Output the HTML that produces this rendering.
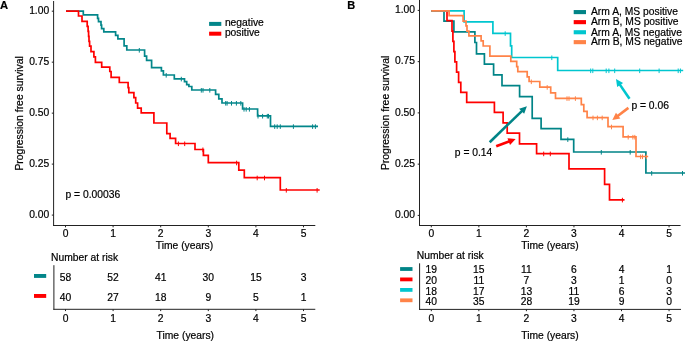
<!DOCTYPE html>
<html><head><meta charset="utf-8"><style>
html,body{margin:0;padding:0;background:#fff;}
body{width:685px;height:341px;overflow:hidden;}
svg{display:block;font-family:"Liberation Sans", sans-serif;will-change:transform;}
text{stroke:#000;stroke-width:0.2px;}
</style></head><body>
<svg width="685" height="341" viewBox="0 0 685 341">
<rect width="685" height="341" fill="#fff"/>
<text x="0.00" y="9.10" text-anchor="start" font-size="11.2" font-weight="bold" fill="#000" >A</text>
<line x1="53.60" y1="1.00" x2="53.60" y2="226.00" stroke="#222" stroke-width="1.0" />
<line x1="53.10" y1="225.50" x2="315.30" y2="225.50" stroke="#222" stroke-width="1.0" />
<line x1="51.80" y1="11.20" x2="53.60" y2="11.20" stroke="#222" stroke-width="1.0" />
<text x="49.20" y="14.00" text-anchor="end" font-size="10.3" font-weight="normal" fill="#000" >1.00</text>
<line x1="51.80" y1="62.17" x2="53.60" y2="62.17" stroke="#222" stroke-width="1.0" />
<text x="49.20" y="64.97" text-anchor="end" font-size="10.3" font-weight="normal" fill="#000" >0.75</text>
<line x1="51.80" y1="113.15" x2="53.60" y2="113.15" stroke="#222" stroke-width="1.0" />
<text x="49.20" y="115.95" text-anchor="end" font-size="10.3" font-weight="normal" fill="#000" >0.50</text>
<line x1="51.80" y1="164.12" x2="53.60" y2="164.12" stroke="#222" stroke-width="1.0" />
<text x="49.20" y="166.93" text-anchor="end" font-size="10.3" font-weight="normal" fill="#000" >0.25</text>
<line x1="51.80" y1="215.10" x2="53.60" y2="215.10" stroke="#222" stroke-width="1.0" />
<text x="49.20" y="217.90" text-anchor="end" font-size="10.3" font-weight="normal" fill="#000" >0.00</text>
<line x1="65.50" y1="225.50" x2="65.50" y2="227.30" stroke="#222" stroke-width="1.0" />
<text x="65.50" y="237.30" text-anchor="middle" font-size="10.3" font-weight="normal" fill="#000" >0</text>
<line x1="113.10" y1="225.50" x2="113.10" y2="227.30" stroke="#222" stroke-width="1.0" />
<text x="113.10" y="237.30" text-anchor="middle" font-size="10.3" font-weight="normal" fill="#000" >1</text>
<line x1="160.70" y1="225.50" x2="160.70" y2="227.30" stroke="#222" stroke-width="1.0" />
<text x="160.70" y="237.30" text-anchor="middle" font-size="10.3" font-weight="normal" fill="#000" >2</text>
<line x1="208.30" y1="225.50" x2="208.30" y2="227.30" stroke="#222" stroke-width="1.0" />
<text x="208.30" y="237.30" text-anchor="middle" font-size="10.3" font-weight="normal" fill="#000" >3</text>
<line x1="255.90" y1="225.50" x2="255.90" y2="227.30" stroke="#222" stroke-width="1.0" />
<text x="255.90" y="237.30" text-anchor="middle" font-size="10.3" font-weight="normal" fill="#000" >4</text>
<line x1="303.50" y1="225.50" x2="303.50" y2="227.30" stroke="#222" stroke-width="1.0" />
<text x="303.50" y="237.30" text-anchor="middle" font-size="10.3" font-weight="normal" fill="#000" >5</text>
<text x="184.50" y="249.30" text-anchor="middle" font-size="10.3" font-weight="normal" fill="#000" >Time (years)</text>
<text transform="translate(23.0,113.4) rotate(-90)" text-anchor="middle" font-size="10.4">Progression free survival</text>
<text x="65.50" y="197.60" text-anchor="start" font-size="10.3" font-weight="normal" fill="#000" >p = 0.00036</text>
<rect x="209.10" y="21.90" width="12.20" height="4.00" fill="#03868a"/>
<rect x="209.10" y="31.70" width="12.20" height="4.00" fill="#ff0000"/>
<text x="224.90" y="26.00" text-anchor="start" font-size="10.3" font-weight="normal" fill="#000" >negative</text>
<text x="224.90" y="35.80" text-anchor="start" font-size="10.3" font-weight="normal" fill="#000" >positive</text>
<text x="51.10" y="261.00" text-anchor="start" font-size="10.3" font-weight="normal" fill="#000" >Number at risk</text>
<line x1="53.90" y1="265.20" x2="53.90" y2="309.80" stroke="#222" stroke-width="1.0" />
<line x1="53.40" y1="309.30" x2="315.30" y2="309.30" stroke="#222" stroke-width="1.0" />
<rect x="34.00" y="274.00" width="12.20" height="3.90" fill="#03868a"/>
<text x="65.50" y="280.90" text-anchor="middle" font-size="10.3" font-weight="normal" fill="#000" >58</text>
<text x="113.10" y="280.90" text-anchor="middle" font-size="10.3" font-weight="normal" fill="#000" >52</text>
<text x="160.70" y="280.90" text-anchor="middle" font-size="10.3" font-weight="normal" fill="#000" >41</text>
<text x="208.30" y="280.90" text-anchor="middle" font-size="10.3" font-weight="normal" fill="#000" >30</text>
<text x="255.90" y="280.90" text-anchor="middle" font-size="10.3" font-weight="normal" fill="#000" >15</text>
<text x="303.50" y="280.90" text-anchor="middle" font-size="10.3" font-weight="normal" fill="#000" >3</text>
<rect x="34.00" y="294.00" width="12.20" height="3.90" fill="#ff0000"/>
<text x="65.50" y="300.90" text-anchor="middle" font-size="10.3" font-weight="normal" fill="#000" >40</text>
<text x="113.10" y="300.90" text-anchor="middle" font-size="10.3" font-weight="normal" fill="#000" >27</text>
<text x="160.70" y="300.90" text-anchor="middle" font-size="10.3" font-weight="normal" fill="#000" >18</text>
<text x="208.30" y="300.90" text-anchor="middle" font-size="10.3" font-weight="normal" fill="#000" >9</text>
<text x="255.90" y="300.90" text-anchor="middle" font-size="10.3" font-weight="normal" fill="#000" >5</text>
<text x="303.50" y="300.90" text-anchor="middle" font-size="10.3" font-weight="normal" fill="#000" >1</text>
<line x1="65.50" y1="309.30" x2="65.50" y2="311.10" stroke="#222" stroke-width="1.0" />
<text x="65.50" y="322.10" text-anchor="middle" font-size="10.3" font-weight="normal" fill="#000" >0</text>
<line x1="113.10" y1="309.30" x2="113.10" y2="311.10" stroke="#222" stroke-width="1.0" />
<text x="113.10" y="322.10" text-anchor="middle" font-size="10.3" font-weight="normal" fill="#000" >1</text>
<line x1="160.70" y1="309.30" x2="160.70" y2="311.10" stroke="#222" stroke-width="1.0" />
<text x="160.70" y="322.10" text-anchor="middle" font-size="10.3" font-weight="normal" fill="#000" >2</text>
<line x1="208.30" y1="309.30" x2="208.30" y2="311.10" stroke="#222" stroke-width="1.0" />
<text x="208.30" y="322.10" text-anchor="middle" font-size="10.3" font-weight="normal" fill="#000" >3</text>
<line x1="255.90" y1="309.30" x2="255.90" y2="311.10" stroke="#222" stroke-width="1.0" />
<text x="255.90" y="322.10" text-anchor="middle" font-size="10.3" font-weight="normal" fill="#000" >4</text>
<line x1="303.50" y1="309.30" x2="303.50" y2="311.10" stroke="#222" stroke-width="1.0" />
<text x="303.50" y="322.10" text-anchor="middle" font-size="10.3" font-weight="normal" fill="#000" >5</text>
<text x="185.30" y="339.00" text-anchor="middle" font-size="10.3" font-weight="normal" fill="#000" >Time (years)</text>
<text x="347.30" y="8.90" text-anchor="start" font-size="11.0" font-weight="bold" fill="#000" >B</text>
<line x1="419.50" y1="0.00" x2="419.50" y2="226.00" stroke="#222" stroke-width="1.0" />
<line x1="419.00" y1="225.50" x2="680.60" y2="225.50" stroke="#222" stroke-width="1.0" />
<line x1="417.70" y1="10.40" x2="419.50" y2="10.40" stroke="#222" stroke-width="1.0" />
<text x="415.00" y="13.20" text-anchor="end" font-size="10.3" font-weight="normal" fill="#000" >1.00</text>
<line x1="417.70" y1="61.65" x2="419.50" y2="61.65" stroke="#222" stroke-width="1.0" />
<text x="415.00" y="64.45" text-anchor="end" font-size="10.3" font-weight="normal" fill="#000" >0.75</text>
<line x1="417.70" y1="112.90" x2="419.50" y2="112.90" stroke="#222" stroke-width="1.0" />
<text x="415.00" y="115.70" text-anchor="end" font-size="10.3" font-weight="normal" fill="#000" >0.50</text>
<line x1="417.70" y1="164.15" x2="419.50" y2="164.15" stroke="#222" stroke-width="1.0" />
<text x="415.00" y="166.95" text-anchor="end" font-size="10.3" font-weight="normal" fill="#000" >0.25</text>
<line x1="417.70" y1="215.40" x2="419.50" y2="215.40" stroke="#222" stroke-width="1.0" />
<text x="415.00" y="218.20" text-anchor="end" font-size="10.3" font-weight="normal" fill="#000" >0.00</text>
<line x1="431.30" y1="225.50" x2="431.30" y2="227.30" stroke="#222" stroke-width="1.0" />
<text x="431.30" y="237.30" text-anchor="middle" font-size="10.3" font-weight="normal" fill="#000" >0</text>
<line x1="478.85" y1="225.50" x2="478.85" y2="227.30" stroke="#222" stroke-width="1.0" />
<text x="478.85" y="237.30" text-anchor="middle" font-size="10.3" font-weight="normal" fill="#000" >1</text>
<line x1="526.40" y1="225.50" x2="526.40" y2="227.30" stroke="#222" stroke-width="1.0" />
<text x="526.40" y="237.30" text-anchor="middle" font-size="10.3" font-weight="normal" fill="#000" >2</text>
<line x1="573.95" y1="225.50" x2="573.95" y2="227.30" stroke="#222" stroke-width="1.0" />
<text x="573.95" y="237.30" text-anchor="middle" font-size="10.3" font-weight="normal" fill="#000" >3</text>
<line x1="621.50" y1="225.50" x2="621.50" y2="227.30" stroke="#222" stroke-width="1.0" />
<text x="621.50" y="237.30" text-anchor="middle" font-size="10.3" font-weight="normal" fill="#000" >4</text>
<line x1="669.05" y1="225.50" x2="669.05" y2="227.30" stroke="#222" stroke-width="1.0" />
<text x="669.05" y="237.30" text-anchor="middle" font-size="10.3" font-weight="normal" fill="#000" >5</text>
<text x="550.00" y="249.30" text-anchor="middle" font-size="10.3" font-weight="normal" fill="#000" >Time (years)</text>
<text transform="translate(388.6,112.9) rotate(-90)" text-anchor="middle" font-size="10.4">Progression free survival</text>
<rect x="573.70" y="10.05" width="12.30" height="4.10" fill="#008487"/>
<text x="591.00" y="15.35" text-anchor="start" font-size="10.3" font-weight="normal" fill="#000" >Arm A, MS positive</text>
<rect x="573.70" y="20.10" width="12.30" height="4.10" fill="#ff0000"/>
<text x="591.00" y="25.40" text-anchor="start" font-size="10.3" font-weight="normal" fill="#000" >Arm B, MS positive</text>
<rect x="573.70" y="30.20" width="12.30" height="4.10" fill="#00c6cf"/>
<text x="591.00" y="35.50" text-anchor="start" font-size="10.3" font-weight="normal" fill="#000" >Arm A, MS negative</text>
<rect x="573.70" y="40.10" width="12.30" height="4.10" fill="#ff8348"/>
<text x="591.00" y="45.40" text-anchor="start" font-size="10.3" font-weight="normal" fill="#000" >Arm B, MS negative</text>
<text x="454.80" y="155.70" text-anchor="start" font-size="10.3" font-weight="normal" fill="#000" >p = 0.14</text>
<text x="631.40" y="108.80" text-anchor="start" font-size="10.3" font-weight="normal" fill="#000" >p = 0.06</text>
<text x="416.80" y="258.60" text-anchor="start" font-size="10.3" font-weight="normal" fill="#000" >Number at risk</text>
<line x1="419.60" y1="263.30" x2="419.60" y2="309.90" stroke="#222" stroke-width="1.0" />
<line x1="419.10" y1="309.40" x2="681.00" y2="309.40" stroke="#222" stroke-width="1.0" />
<rect x="400.10" y="267.10" width="12.40" height="3.80" fill="#008487"/>
<text x="431.30" y="273.00" text-anchor="middle" font-size="10.3" font-weight="normal" fill="#000" >19</text>
<text x="478.85" y="273.00" text-anchor="middle" font-size="10.3" font-weight="normal" fill="#000" >15</text>
<text x="526.40" y="273.00" text-anchor="middle" font-size="10.3" font-weight="normal" fill="#000" >11</text>
<text x="573.95" y="273.00" text-anchor="middle" font-size="10.3" font-weight="normal" fill="#000" >6</text>
<text x="621.50" y="273.00" text-anchor="middle" font-size="10.3" font-weight="normal" fill="#000" >4</text>
<text x="669.05" y="273.00" text-anchor="middle" font-size="10.3" font-weight="normal" fill="#000" >1</text>
<rect x="400.10" y="277.50" width="12.40" height="3.80" fill="#ff0000"/>
<text x="431.30" y="283.80" text-anchor="middle" font-size="10.3" font-weight="normal" fill="#000" >20</text>
<text x="478.85" y="283.80" text-anchor="middle" font-size="10.3" font-weight="normal" fill="#000" >11</text>
<text x="526.40" y="283.80" text-anchor="middle" font-size="10.3" font-weight="normal" fill="#000" >7</text>
<text x="573.95" y="283.80" text-anchor="middle" font-size="10.3" font-weight="normal" fill="#000" >3</text>
<text x="621.50" y="283.80" text-anchor="middle" font-size="10.3" font-weight="normal" fill="#000" >1</text>
<text x="669.05" y="283.80" text-anchor="middle" font-size="10.3" font-weight="normal" fill="#000" >0</text>
<rect x="400.10" y="288.00" width="12.40" height="3.80" fill="#00c6cf"/>
<text x="431.30" y="294.60" text-anchor="middle" font-size="10.3" font-weight="normal" fill="#000" >18</text>
<text x="478.85" y="294.60" text-anchor="middle" font-size="10.3" font-weight="normal" fill="#000" >17</text>
<text x="526.40" y="294.60" text-anchor="middle" font-size="10.3" font-weight="normal" fill="#000" >13</text>
<text x="573.95" y="294.60" text-anchor="middle" font-size="10.3" font-weight="normal" fill="#000" >11</text>
<text x="621.50" y="294.60" text-anchor="middle" font-size="10.3" font-weight="normal" fill="#000" >6</text>
<text x="669.05" y="294.60" text-anchor="middle" font-size="10.3" font-weight="normal" fill="#000" >3</text>
<rect x="400.10" y="298.40" width="12.40" height="3.80" fill="#ff8348"/>
<text x="431.30" y="305.40" text-anchor="middle" font-size="10.3" font-weight="normal" fill="#000" >40</text>
<text x="478.85" y="305.40" text-anchor="middle" font-size="10.3" font-weight="normal" fill="#000" >35</text>
<text x="526.40" y="305.40" text-anchor="middle" font-size="10.3" font-weight="normal" fill="#000" >28</text>
<text x="573.95" y="305.40" text-anchor="middle" font-size="10.3" font-weight="normal" fill="#000" >19</text>
<text x="621.50" y="305.40" text-anchor="middle" font-size="10.3" font-weight="normal" fill="#000" >9</text>
<text x="669.05" y="305.40" text-anchor="middle" font-size="10.3" font-weight="normal" fill="#000" >0</text>
<line x1="431.30" y1="309.40" x2="431.30" y2="311.20" stroke="#222" stroke-width="1.0" />
<text x="431.30" y="321.60" text-anchor="middle" font-size="10.3" font-weight="normal" fill="#000" >0</text>
<line x1="478.85" y1="309.40" x2="478.85" y2="311.20" stroke="#222" stroke-width="1.0" />
<text x="478.85" y="321.60" text-anchor="middle" font-size="10.3" font-weight="normal" fill="#000" >1</text>
<line x1="526.40" y1="309.40" x2="526.40" y2="311.20" stroke="#222" stroke-width="1.0" />
<text x="526.40" y="321.60" text-anchor="middle" font-size="10.3" font-weight="normal" fill="#000" >2</text>
<line x1="573.95" y1="309.40" x2="573.95" y2="311.20" stroke="#222" stroke-width="1.0" />
<text x="573.95" y="321.60" text-anchor="middle" font-size="10.3" font-weight="normal" fill="#000" >3</text>
<line x1="621.50" y1="309.40" x2="621.50" y2="311.20" stroke="#222" stroke-width="1.0" />
<text x="621.50" y="321.60" text-anchor="middle" font-size="10.3" font-weight="normal" fill="#000" >4</text>
<line x1="669.05" y1="309.40" x2="669.05" y2="311.20" stroke="#222" stroke-width="1.0" />
<text x="669.05" y="321.60" text-anchor="middle" font-size="10.3" font-weight="normal" fill="#000" >5</text>
<text x="550.00" y="339.20" text-anchor="middle" font-size="10.3" font-weight="normal" fill="#000" >Time (years)</text>
<path d="M66.00,11.20H83.30V14.90H97.60V18.40H98.50V21.70H101.00V25.20H101.60V28.60H103.80V31.80H115.60V35.40H117.90V38.80H124.10V45.90H126.80V50.00H144.60V56.10H146.60V60.40H151.60V67.70H161.40V70.90H163.40V75.00H174.30V78.80H184.50V81.60H186.70V84.70H188.90V86.50H191.80V90.00H215.60V94.40H218.80V98.80H222.00V103.00H242.60V109.00H257.60V115.90H270.50V126.30H318.00" fill="none" stroke="#03868a" stroke-width="1.7" stroke-linejoin="miter" stroke-linecap="butt"/>
<line x1="139.30" y1="48.00" x2="139.30" y2="52.60" stroke="#03868a" stroke-width="1.0" />
<line x1="166.20" y1="73.00" x2="166.20" y2="77.60" stroke="#03868a" stroke-width="1.0" />
<line x1="181.30" y1="76.80" x2="181.30" y2="81.40" stroke="#03868a" stroke-width="1.0" />
<line x1="201.30" y1="88.00" x2="201.30" y2="92.60" stroke="#03868a" stroke-width="1.0" />
<line x1="203.00" y1="88.00" x2="203.00" y2="92.60" stroke="#03868a" stroke-width="1.0" />
<line x1="209.80" y1="88.00" x2="209.80" y2="92.60" stroke="#03868a" stroke-width="1.0" />
<line x1="225.70" y1="101.00" x2="225.70" y2="105.60" stroke="#03868a" stroke-width="1.0" />
<line x1="227.10" y1="101.00" x2="227.10" y2="105.60" stroke="#03868a" stroke-width="1.0" />
<line x1="231.50" y1="101.00" x2="231.50" y2="105.60" stroke="#03868a" stroke-width="1.0" />
<line x1="236.40" y1="101.00" x2="236.40" y2="105.60" stroke="#03868a" stroke-width="1.0" />
<line x1="240.80" y1="101.00" x2="240.80" y2="105.60" stroke="#03868a" stroke-width="1.0" />
<line x1="244.00" y1="107.00" x2="244.00" y2="111.60" stroke="#03868a" stroke-width="1.0" />
<line x1="246.20" y1="107.00" x2="246.20" y2="111.60" stroke="#03868a" stroke-width="1.0" />
<line x1="249.40" y1="107.00" x2="249.40" y2="111.60" stroke="#03868a" stroke-width="1.0" />
<line x1="258.00" y1="113.90" x2="258.00" y2="118.50" stroke="#03868a" stroke-width="1.0" />
<line x1="262.60" y1="113.90" x2="262.60" y2="118.50" stroke="#03868a" stroke-width="1.0" />
<line x1="267.30" y1="113.90" x2="267.30" y2="118.50" stroke="#03868a" stroke-width="1.0" />
<line x1="268.50" y1="113.90" x2="268.50" y2="118.50" stroke="#03868a" stroke-width="1.0" />
<line x1="274.70" y1="124.30" x2="274.70" y2="128.90" stroke="#03868a" stroke-width="1.0" />
<line x1="277.20" y1="124.30" x2="277.20" y2="128.90" stroke="#03868a" stroke-width="1.0" />
<line x1="280.30" y1="124.30" x2="280.30" y2="128.90" stroke="#03868a" stroke-width="1.0" />
<line x1="293.40" y1="124.30" x2="293.40" y2="128.90" stroke="#03868a" stroke-width="1.0" />
<line x1="312.60" y1="124.30" x2="312.60" y2="128.90" stroke="#03868a" stroke-width="1.0" />
<line x1="315.40" y1="124.30" x2="315.40" y2="128.90" stroke="#03868a" stroke-width="1.0" />
<path d="M66.00,11.20H78.50V16.00H82.00V21.30H87.20V26.40H88.10V31.30H88.60V36.40H89.00V41.40H89.60V46.20H91.00V51.60H93.90V56.80H95.40V62.30H101.70V67.10H109.80V71.50H111.10V77.40H119.30V82.50H128.10V87.60H128.80V92.70H133.90V97.60H135.70V103.00H137.60V108.20H141.20V112.80H153.90V123.00H166.80V133.60H170.10V138.40H175.60V143.50H195.00V149.50H203.40V155.40H208.30V162.70H238.80V170.10H244.30V177.70H280.30V190.00H319.70" fill="none" stroke="#ff0000" stroke-width="1.7" stroke-linejoin="miter" stroke-linecap="butt"/>
<line x1="178.40" y1="141.50" x2="178.40" y2="146.10" stroke="#ff0000" stroke-width="1.0" />
<line x1="184.70" y1="141.50" x2="184.70" y2="146.10" stroke="#ff0000" stroke-width="1.0" />
<line x1="202.90" y1="147.50" x2="202.90" y2="152.10" stroke="#ff0000" stroke-width="1.0" />
<line x1="236.60" y1="160.70" x2="236.60" y2="165.30" stroke="#ff0000" stroke-width="1.0" />
<line x1="257.20" y1="175.70" x2="257.20" y2="180.30" stroke="#ff0000" stroke-width="1.0" />
<line x1="264.50" y1="175.70" x2="264.50" y2="180.30" stroke="#ff0000" stroke-width="1.0" />
<line x1="286.30" y1="188.00" x2="286.30" y2="192.60" stroke="#ff0000" stroke-width="1.0" />
<line x1="317.10" y1="188.00" x2="317.10" y2="192.60" stroke="#ff0000" stroke-width="1.0" />
<path d="M431.20,10.85H444.00V21.20H453.90V31.90H474.90V42.50H476.50V53.80H484.40V64.20H493.60V74.90H502.00V85.60H519.60V96.70H532.20V118.30H541.10V128.60H561.00V139.30H573.70V152.00H645.90V173.00H685.00" fill="none" stroke="#008487" stroke-width="1.7" stroke-linejoin="miter" stroke-linecap="butt"/>
<line x1="567.80" y1="137.30" x2="567.80" y2="141.90" stroke="#008487" stroke-width="1.0" />
<line x1="601.30" y1="150.00" x2="601.30" y2="154.60" stroke="#008487" stroke-width="1.0" />
<line x1="630.20" y1="150.00" x2="630.20" y2="154.60" stroke="#008487" stroke-width="1.0" />
<line x1="651.70" y1="171.00" x2="651.70" y2="175.60" stroke="#008487" stroke-width="1.0" />
<line x1="682.50" y1="171.00" x2="682.50" y2="175.60" stroke="#008487" stroke-width="1.0" />
<path d="M431.20,10.85H447.00V20.60H452.00V31.10H452.90V41.40H453.90V51.70H454.90V61.90H456.60V72.20H458.60V82.30H460.80V92.30H466.70V102.40H494.40V112.40H503.10V122.90H507.20V133.10H519.50V143.80H536.60V153.60H569.00V168.80H604.60V184.30H609.50V199.80H624.50" fill="none" stroke="#ff0000" stroke-width="1.7" stroke-linejoin="miter" stroke-linecap="butt"/>
<line x1="543.70" y1="151.60" x2="543.70" y2="156.20" stroke="#ff0000" stroke-width="1.0" />
<line x1="550.30" y1="151.60" x2="550.30" y2="156.20" stroke="#ff0000" stroke-width="1.0" />
<line x1="622.40" y1="197.80" x2="622.40" y2="202.40" stroke="#ff0000" stroke-width="1.0" />
<path d="M431.20,10.85H464.10V21.80H492.90V33.30H510.50V45.80H511.70V57.50H557.70V70.50H683.20" fill="none" stroke="#00c6cf" stroke-width="1.7" stroke-linejoin="miter" stroke-linecap="butt"/>
<line x1="505.20" y1="31.30" x2="505.20" y2="35.90" stroke="#00c6cf" stroke-width="1.0" />
<line x1="551.80" y1="55.50" x2="551.80" y2="60.10" stroke="#00c6cf" stroke-width="1.0" />
<line x1="590.70" y1="68.50" x2="590.70" y2="73.10" stroke="#00c6cf" stroke-width="1.0" />
<line x1="592.80" y1="68.50" x2="592.80" y2="73.10" stroke="#00c6cf" stroke-width="1.0" />
<line x1="606.20" y1="68.50" x2="606.20" y2="73.10" stroke="#00c6cf" stroke-width="1.0" />
<line x1="608.90" y1="68.50" x2="608.90" y2="73.10" stroke="#00c6cf" stroke-width="1.0" />
<line x1="614.70" y1="68.50" x2="614.70" y2="73.10" stroke="#00c6cf" stroke-width="1.0" />
<line x1="639.70" y1="68.50" x2="639.70" y2="73.10" stroke="#00c6cf" stroke-width="1.0" />
<line x1="659.10" y1="68.50" x2="659.10" y2="73.10" stroke="#00c6cf" stroke-width="1.0" />
<line x1="678.20" y1="68.50" x2="678.20" y2="73.10" stroke="#00c6cf" stroke-width="1.0" />
<line x1="680.40" y1="68.50" x2="680.40" y2="73.10" stroke="#00c6cf" stroke-width="1.0" />
<path d="M431.20,10.85H449.10V15.60H463.10V21.10H466.00V25.90H467.00V31.10H468.90V35.90H481.10V40.80H483.20V46.00H489.90V56.20H510.80V61.40H516.70V66.60H517.80V71.70H527.20V76.80H529.10V81.50H539.80V87.10H550.70V92.80H555.50V98.30H581.30V104.70H583.80V111.30H587.10V117.60H608.00V126.70H623.10V136.90H636.00V156.50H648.20" fill="none" stroke="#ff8348" stroke-width="1.7" stroke-linejoin="miter" stroke-linecap="butt"/>
<line x1="531.30" y1="79.50" x2="531.30" y2="84.10" stroke="#ff8348" stroke-width="1.0" />
<line x1="547.20" y1="85.10" x2="547.20" y2="89.70" stroke="#ff8348" stroke-width="1.0" />
<line x1="567.00" y1="96.30" x2="567.00" y2="100.90" stroke="#ff8348" stroke-width="1.0" />
<line x1="569.00" y1="96.30" x2="569.00" y2="100.90" stroke="#ff8348" stroke-width="1.0" />
<line x1="575.40" y1="96.30" x2="575.40" y2="100.90" stroke="#ff8348" stroke-width="1.0" />
<line x1="593.00" y1="115.60" x2="593.00" y2="120.20" stroke="#ff8348" stroke-width="1.0" />
<line x1="597.40" y1="115.60" x2="597.40" y2="120.20" stroke="#ff8348" stroke-width="1.0" />
<line x1="602.20" y1="115.60" x2="602.20" y2="120.20" stroke="#ff8348" stroke-width="1.0" />
<line x1="611.50" y1="124.70" x2="611.50" y2="129.30" stroke="#ff8348" stroke-width="1.0" />
<line x1="628.20" y1="134.90" x2="628.20" y2="139.50" stroke="#ff8348" stroke-width="1.0" />
<line x1="632.90" y1="134.90" x2="632.90" y2="139.50" stroke="#ff8348" stroke-width="1.0" />
<line x1="634.80" y1="134.90" x2="634.80" y2="139.50" stroke="#ff8348" stroke-width="1.0" />
<line x1="640.60" y1="154.50" x2="640.60" y2="159.10" stroke="#ff8348" stroke-width="1.0" />
<line x1="642.50" y1="154.50" x2="642.50" y2="159.10" stroke="#ff8348" stroke-width="1.0" />
<line x1="646.30" y1="154.50" x2="646.30" y2="159.10" stroke="#ff8348" stroke-width="1.0" />
<line x1="489.70" y1="142.20" x2="522.37" y2="110.58" stroke="#008487" stroke-width="2.6"/>
<polygon points="526.90,106.20 524.16,113.86 519.15,108.69" fill="#008487"/>
<line x1="496.20" y1="146.20" x2="509.69" y2="141.19" stroke="#ff0000" stroke-width="2.8"/>
<polygon points="515.60,139.00 510.01,144.92 507.50,138.16" fill="#ff0000"/>
<line x1="629.50" y1="98.70" x2="619.55" y2="84.11" stroke="#00c6cf" stroke-width="2.6"/>
<polygon points="616.00,78.90 623.09,82.90 617.14,86.96" fill="#00c6cf"/>
<line x1="628.40" y1="107.90" x2="617.34" y2="116.21" stroke="#ff8348" stroke-width="2.6"/>
<polygon points="612.30,120.00 615.97,112.74 620.30,118.49" fill="#ff8348"/>
</svg>
</body></html>
